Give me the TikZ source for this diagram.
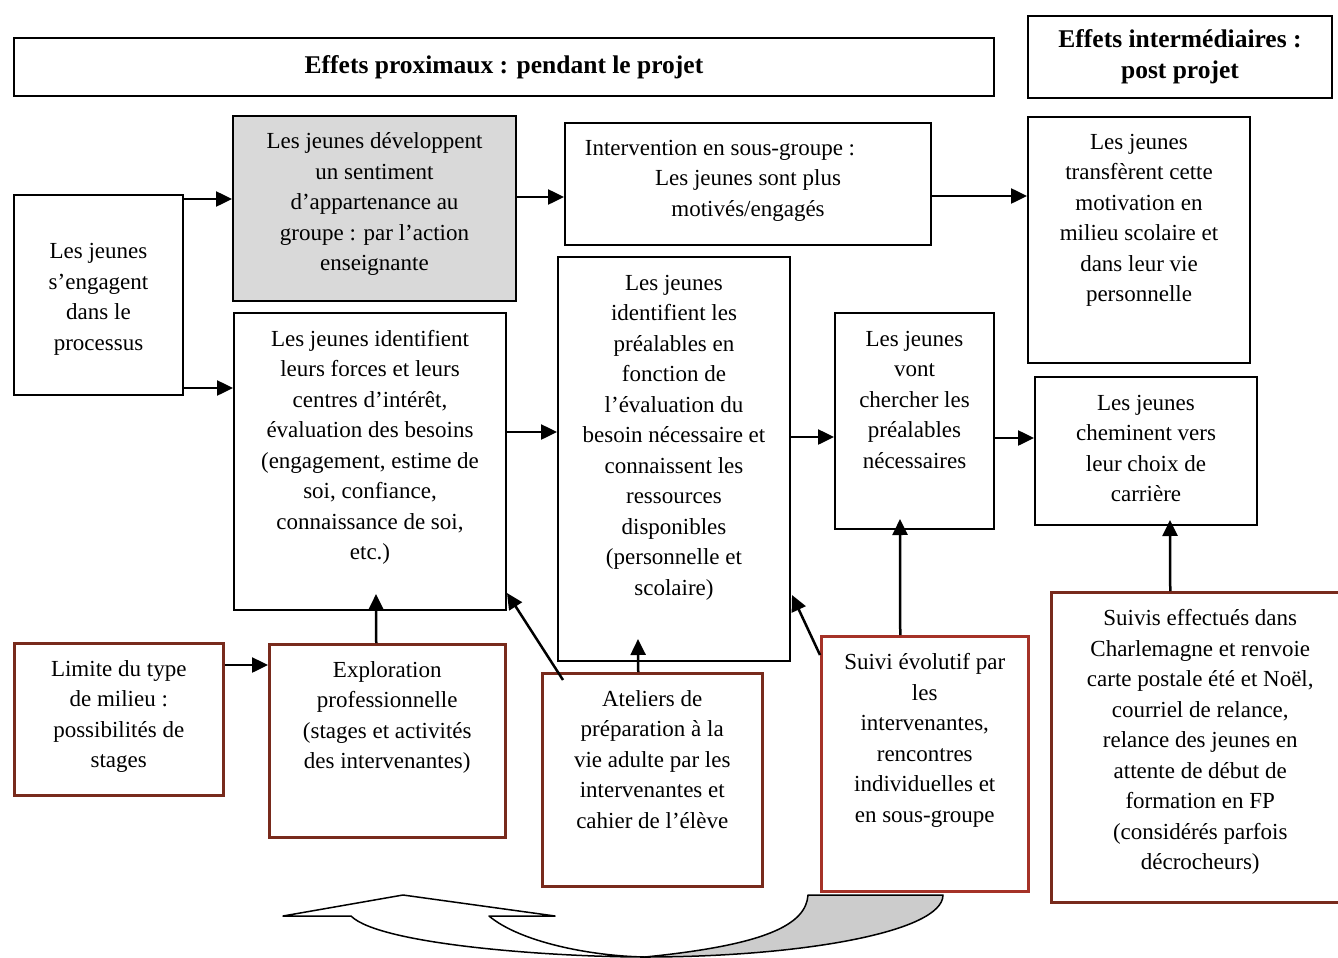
\documentclass[tikz,border=0pt]{standalone}
\usepackage{fontspec}
\setmainfont{Liberation Serif}
\usetikzlibrary{arrows.meta,calc}
\definecolor{brn}{RGB}{120,42,28}
\definecolor{brnred}{RGB}{165,50,40}
\definecolor{boxgray}{RGB}{217,217,217}
\definecolor{arrgray}{RGB}{204,204,204}
\begin{document}
\begin{tikzpicture}[x=1pt,y=-1pt,
 box/.style={draw=black, line width=2pt, inner sep=0pt, anchor=north west},
 rbox/.style={draw=brn, line width=2.5pt, inner sep=0pt, anchor=north west},
 txt/.style={align=center, inner sep=0pt, anchor=north, font=\fontsize{23}{30.5}\selectfont},
 hdr/.style={align=center, inner sep=0pt, font=\bfseries\fontsize{25.5}{31}\selectfont},
 arr/.style={line width=2.5pt, -{Triangle[length=16pt,width=15pt]}},
]
\useasboundingbox (0,0) rectangle (1338,958);

% headers
\node[box, minimum width=980pt, minimum height=58pt] (H1) at (13,37) {};
\node[hdr] (H1t) at (H1.center) {Effets proximaux : pendant le projet};
\node[box, minimum width=304pt, minimum height=82pt] (H2) at (1027,15) {};
\node[hdr] (H2t) at (H2.center) {Effets intermédiaires :\\ post projet};

% black boxes
\node[box, minimum width=169pt, minimum height=200pt] (A) at (13,194) {};
\node[box, fill=boxgray, minimum width=283pt, minimum height=185pt] (B) at (232,115) {};
\node[box, minimum width=366pt, minimum height=122pt] (C) at (564,122) {};
\node[box, minimum width=222pt, minimum height=246pt] (D) at (1027,116) {};
\node[box, minimum width=272pt, minimum height=297pt] (E) at (233,312) {};
\node[box, minimum width=232pt, minimum height=404pt] (F) at (557,256) {};
\node[box, minimum width=159pt, minimum height=216pt] (G) at (834,312) {};
\node[box, minimum width=222pt, minimum height=148pt] (H) at (1034,376) {};

% brown boxes
\node[rbox, minimum width=209pt, minimum height=152pt] (I) at (13,642) {};
\node[rbox, minimum width=236pt, minimum height=193pt] (J) at (268,643) {};
\node[rbox, minimum width=220pt, minimum height=213pt] (K) at (541,672) {};
\node[rbox, draw=brnred, minimum width=207pt, minimum height=255pt] (L) at (820,635) {};
\node[rbox, minimum width=298pt, minimum height=310pt] (M) at (1050,591) {};

% texts
\node[txt] (At) at ([yshift=-43pt]A.north) {\strut Les jeunes\\ s’engagent\\ dans le\\ processus};
\node[txt] (Bt) at ([yshift=-12pt]B.north) {\strut Les jeunes développent\\ un sentiment\\ d’appartenance au\\ groupe : par l’action\\ enseignante};
\node[txt] (Ct) at ([yshift=-11.5pt]C.north) {\strut Intervention en sous-groupe :\hspace*{56pt}\\ Les jeunes sont plus\\ motivés/engagés};
\node[txt] (Dt) at ([yshift=-11.5pt]D.north) {\strut Les jeunes\\ transfèrent cette\\ motivation en\\ milieu scolaire et\\ dans leur vie\\ personnelle};
\node[txt] (Et) at ([yshift=-12.5pt]E.north) {\strut Les jeunes identifient\\ leurs forces et leurs\\ centres d’intérêt,\\ évaluation des besoins\\ (engagement, estime de\\ soi, confiance,\\ connaissance de soi,\\ etc.)};
\node[txt] (Ft) at ([yshift=-12.5pt]F.north) {\strut Les jeunes\\ identifient les\\ préalables en\\ fonction de\\ l’évaluation du\\ besoin nécessaire et\\ connaissent les\\ ressources\\ disponibles\\ (personnelle et\\ scolaire)};
\node[txt] (Gt) at ([yshift=-12.5pt]G.north) {\strut Les jeunes\\ vont\\ chercher les\\ préalables\\ nécessaires};
\node[txt] (Ht) at ([yshift=-12.5pt]H.north) {\strut Les jeunes\\ cheminent vers\\ leur choix de\\ carrière};
\node[txt] (It) at ([yshift=-12.5pt]I.north) {\strut Limite du type\\ de milieu :\\ possibilités de\\ stages};
\node[txt] (Jt) at ([yshift=-12.5pt]J.north) {\strut Exploration\\ professionnelle\\ (stages et activités\\ des intervenantes)};
\node[txt] (Kt) at ([yshift=-12.5pt]K.north) {\strut Ateliers de\\ préparation à la\\ vie adulte par les\\ intervenantes et\\ cahier de l’élève};
\node[txt] (Lt) at ([yshift=-13pt]L.north) {\strut Suivi évolutif par\\ les\\ intervenantes,\\ rencontres\\ individuelles et\\ en sous-groupe};
\node[txt] (Mt) at ([yshift=-13pt]M.north) {\strut Suivis effectués dans\\ Charlemagne et renvoie\\ carte postale été et Noël,\\ courriel de relance,\\ relance des jeunes en\\ attente de début de\\ formation en FP\\ (considérés parfois\\ décrocheurs)};

% connectors
\coordinate (a1) at ($(A.north east)+(0,5)$);
\draw[arr] (a1) -- (a1 -| B.west);
\coordinate (a2) at ($(A.south east)+(0,-8)$);
\draw[arr] (a2) -- (a2 -| E.west);
\coordinate (b1) at ($(B.north east)+(0,82)$);
\draw[arr] (b1) -- (b1 -| C.west);
\coordinate (c1) at ($(C.north east)+(0,74)$);
\draw[arr] (c1) -- (c1 -| D.west);
\coordinate (e1) at ($(E.north east)+(0,120)$);
\draw[arr] (e1) -- (e1 -| F.west);
\coordinate (f1) at ($(F.north east)+(0,181)$);
\draw[arr] (f1) -- (f1 -| G.west);
\coordinate (g1) at ($(G.north east)+(0,126)$);
\draw[arr] (g1) -- (g1 -| H.west);
\coordinate (i1) at ($(I.north east)+(0,23)$);
\draw[arr] (i1) -- (i1 -| J.west);
\draw[arr] ($(J.north)+(-11,0)$) -- ($(E.south)+(6,-17)$);
\draw[arr] ($(K.north west)+(22,8)$) -- ($(E.south east)+(0,-18)$);
\draw[arr] ($(K.north)+(-14,0)$) -- ($(F.south)+(-36,-23)$);
\draw[arr] ($(L.north west)+(0,20)$) -- ($(F.south east)+(1,-67)$);
\draw[arr] ($(L.north)+(-24.5,0)$) -- ($(G.south)+(-14.5,-11)$);
\draw[arr] ($(M.north)+(-30,0)$) -- ($(H.south)+(24,-6)$);

% bottom curved arrow
\draw[line width=1.5pt, line join=round, fill=white]
  (283,916) -- (403,895) -- (555,916) -- (489,916)
  .. controls (520,942) and (590,956) .. (645,957)
  .. controls (555,957) and (380,945) .. (351,916) -- cycle;
\draw[line width=1.5pt, line join=round, fill=arrgray]
  (645,957) .. controls (765,945) and (806,925) .. (808,895)
  -- (943,895) .. controls (943,932) and (800,957) .. (645,957) -- cycle;
\end{tikzpicture}
\end{document}
